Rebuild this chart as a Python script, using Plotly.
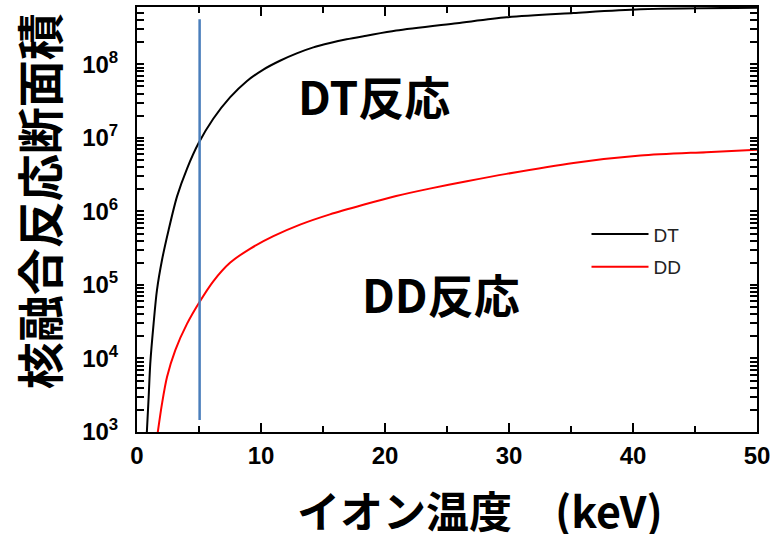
import plotly.graph_objects as go

# Ion temperature (keV) and reaction cross-section values
dt_temp = [0.78, 0.94, 1.07, 1.34, 1.61, 2.02, 2.55, 3.23, 4.03, 4.97, 6.15, 7.50,
           8.85, 10.19, 11.53, 12.88, 14.22, 15.56, 16.9, 18.5, 20.9, 25.8,
           29.8, 35.2, 40.6, 50.0]
dt_sigma = [8.9e2, 3.0e3, 8.5e3, 3.0e4, 8.5e4, 2.2e5, 5.6e5, 1.6e6, 3.8e6, 8.5e6, 1.82e7, 3.55e7,
            5.9e7, 8.5e7, 1.12e8, 1.41e8, 1.7e8, 1.95e8, 2.19e8, 2.45e8, 2.88e8, 3.63e8,
            4.37e8, 5.0e8, 5.62e8, 5.89e8]

dd_temp = [1.64, 2.02, 2.42, 3.09, 4.03, 5.08, 6.15, 7.50, 9.11, 11.0, 13.15, 15.56,
           18.25, 20.9, 23.6, 26.6, 29.8, 35.2, 40.6, 45.9, 50.0]
dd_sigma = [9.0e2, 2.45e3, 5.6e3, 1.3e4, 2.95e4, 6.0e4, 1.12e5, 2.0e5, 3.1e5, 4.6e5, 6.6e5, 9.1e5,
            1.23e6, 1.62e6, 2.04e6, 2.57e6, 3.24e6, 4.57e6, 5.75e6, 6.4e6, 6.9e6]

marker_temp = [5.05, 5.05]
marker_sigma = [1.46e3, 4.1e8]

series_names = ["DT", "DD"]
reaction_labels = ["DT反応", "DD反応"]
x_title = "イオン温度\u3000(keV)"
y_title = "核融合反応断面積"
y_exponents = [3, 4, 5, 6, 7, 8]

CJK = "Noto Sans CJK JP"
LAT = "Liberation Sans"

# log ticks: a labelled tick at each decade, unlabelled ticks at 2..9 x 10^n
y_tickvals = []
y_ticktext = []
for e in y_exponents:
    for m in range(1, 10):
        y_tickvals.append(m * 10 ** e)
        y_ticktext.append(f"10<sup>{e}</sup>" if m == 1 else "")

fig = go.Figure()
fig.add_trace(go.Scatter(x=dt_temp, y=dt_sigma, mode="lines", name=series_names[0],
                         legendgroup="a",
                         line=dict(color="black", width=2, shape="spline", smoothing=0.8)))
fig.add_trace(go.Scatter(x=dd_temp, y=dd_sigma, mode="lines", name=series_names[1],
                         legendgroup="b",
                         line=dict(color="#ff0000", width=2, shape="spline", smoothing=0.8)))
fig.add_trace(go.Scatter(x=marker_temp, y=marker_sigma, mode="lines", showlegend=False,
                         line=dict(color="#4a7ebb", width=2.5)))

fig.update_xaxes(
    range=[0, 50], dtick=10, tick0=0,
    showline=True, linecolor="#000000", linewidth=2, mirror="allticks",
    ticks="inside", ticklen=9, tickwidth=2, tickcolor="#000000",
    minor=dict(ticks="inside", ticklen=6, dtick=5, tick0=0,
               tickcolor="#000000", tickwidth=1.5, showgrid=False),
    ticklabelstandoff=1,
    showgrid=False, zeroline=False,
    tickfont=dict(family=LAT, size=24, color="black", weight="bold"),
)
fig.update_yaxes(
    type="log", range=[3, 8.78], tickmode="array", tickvals=y_tickvals, ticktext=y_ticktext,
    showline=True, linecolor="#000000", linewidth=2, mirror="allticks",
    ticks="inside", ticklen=7, tickwidth=1.5, tickcolor="#000000",
    ticklabelstandoff=12,
    showgrid=False, zeroline=False,
    tickfont=dict(family=LAT, size=24, color="black", weight="bold"),
)

big_font = dict(family=CJK, size=46, color="black", weight="bold")
fig.add_annotation(text=reaction_labels[0], xref="paper", yref="paper", x=0.382, y=0.793,
                   xanchor="center", yanchor="middle", showarrow=False, font=big_font)
fig.add_annotation(text=reaction_labels[1], xref="paper", yref="paper", x=0.490, y=0.328,
                   xanchor="center", yanchor="middle", showarrow=False, font=big_font)
fig.add_annotation(text=x_title, xref="paper", yref="paper", x=0.553, y=-0.18,
                   showarrow=False, xanchor="center", yanchor="middle",
                   font=dict(family=CJK, size=43, color="black", weight="bold"))
fig.add_annotation(text=y_title, xref="paper", yref="paper", x=-0.161, y=0.5435,
                   showarrow=False, textangle=-90, xanchor="center", yanchor="middle",
                   font=dict(family=CJK, size=47, color="black", weight="bold"))

fig.update_layout(
    width=781, height=534,
    margin=dict(l=137, r=24, t=7, b=102, autoexpand=False),
    paper_bgcolor="white", plot_bgcolor="white",
    showlegend=True,
    legend=dict(x=0.725, y=0.51, xanchor="left", yanchor="top", itemwidth=57,
                bgcolor="rgba(0,0,0,0)", borderwidth=0, tracegroupgap=5,
                font=dict(family=LAT, size=19, color="#222222")),
)

fig.write_html("out.html")
